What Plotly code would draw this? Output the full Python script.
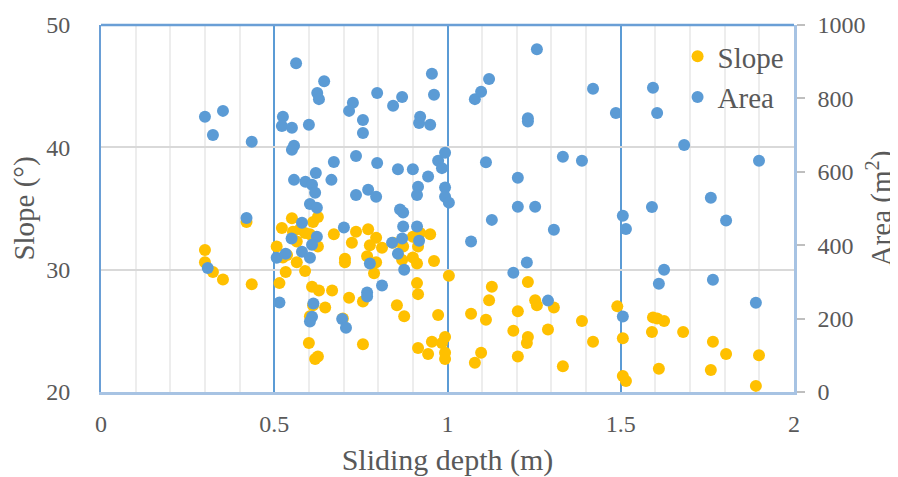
import plotly.graph_objects as go

# ---------------- data ----------------
slope_depth = [0.300, 0.300, 0.323, 0.352, 0.435, 0.420, 0.515, 0.507, 0.533, 0.525,
               0.565, 0.522, 0.551, 0.554, 0.574, 0.612, 0.626, 0.603, 0.626, 0.537,
               0.589, 0.589, 0.565, 0.672, 0.736, 0.724, 0.771, 0.704, 0.704, 0.609,
               0.629, 0.667, 0.716, 0.756, 0.612, 0.647, 0.603, 0.698, 0.600, 0.756,
               0.626, 0.618, 0.794, 0.776, 0.811, 0.768, 0.794, 0.788, 0.843, 0.872,
               0.900, 0.921, 0.950, 0.915, 0.869, 0.900, 0.912, 0.961, 1.004, 0.912,
               0.915, 0.854, 0.875, 0.973, 0.915, 0.944, 0.955, 0.984, 0.993, 0.993,
               0.993, 1.068, 1.111, 1.128, 1.120, 1.079, 1.097, 1.203, 1.190, 1.232,
               1.253, 1.258, 1.232, 1.229, 1.203, 1.290, 1.307, 1.333, 1.388, 1.420,
               1.490, 1.506, 1.506, 1.515, 1.593, 1.605, 1.625, 1.590, 1.680, 1.610,
               1.766, 1.804, 1.760, 1.899, 1.890]
slope_values = [31.6, 30.6, 29.8, 29.2, 28.8, 33.9, 28.9, 31.9, 29.8, 31.0,
                30.6, 33.4, 34.2, 33.1, 33.3, 33.9, 34.3, 32.9, 31.9, 31.2,
                29.9, 33.0, 32.3, 32.9, 33.1, 32.2, 33.3, 30.9, 30.6, 28.6,
                28.3, 28.3, 27.7, 27.4, 27.1, 26.9, 26.2, 26.0, 24.0, 23.9,
                22.9, 22.7, 32.6, 32.0, 31.8, 31.1, 30.6, 29.7, 32.2, 31.9,
                32.7, 33.0, 32.9, 31.9, 30.8, 31.0, 30.5, 30.7, 29.5, 28.9,
                28.0, 27.1, 26.2, 26.3, 23.6, 23.1, 24.1, 24.0, 24.5, 23.2,
                22.7, 26.4, 25.9, 28.6, 27.5, 22.4, 23.2, 26.6, 25.0, 29.0,
                27.5, 27.1, 24.5, 24.0, 22.9, 25.1, 26.9, 22.1, 25.8, 24.1,
                27.0, 24.4, 21.3, 20.9, 26.1, 26.0, 25.8, 24.9, 24.9, 21.9,
                24.1, 23.1, 21.8, 23.0, 20.5]

area_depth = [0.300, 0.323, 0.352, 0.435, 0.420, 0.308, 0.515, 0.507, 0.533, 0.550,
              0.580, 0.563, 0.525, 0.522, 0.551, 0.557, 0.551, 0.557, 0.644, 0.624,
              0.629, 0.727, 0.716, 0.756, 0.756, 0.600, 0.672, 0.736, 0.620, 0.590,
              0.609, 0.618, 0.665, 0.736, 0.771, 0.603, 0.623, 0.797, 0.843, 0.869,
              0.955, 0.961, 0.921, 0.918, 0.950, 0.797, 0.857, 0.900, 0.944, 0.973,
              0.984, 0.993, 0.794, 0.915, 0.912, 0.993, 0.993, 1.004, 0.863, 0.872,
              0.701, 0.872, 0.912, 0.580, 0.623, 1.068, 1.128, 1.203, 1.203, 1.253,
              1.111, 1.232, 1.232, 1.079, 1.097, 1.120, 1.258, 1.420, 1.333, 1.388,
              1.307, 1.486, 1.593, 1.605, 1.683, 1.899, 1.760, 1.590, 1.804, 1.506,
              1.515, 1.625, 1.610, 1.766, 1.890, 1.506, 1.229, 1.190, 1.290, 0.609,
              0.603, 0.613, 0.609, 0.603, 0.696, 0.707, 0.768, 0.768, 0.776, 0.811,
              0.840, 0.857, 0.869, 0.875, 0.918]
area_values = [750, 700, 766, 682, 474, 338, 244, 366, 377, 418,
               382, 896, 750, 725, 720, 671, 660, 578, 847, 815,
               798, 788, 766, 741, 706, 728, 627, 643, 597, 573,
               565, 543, 578, 537, 551, 512, 502, 815, 780, 804,
               867, 810, 750, 733, 728, 624, 607, 607, 587, 630,
               610, 652, 532, 559, 537, 557, 532, 516, 497, 489,
               448, 451, 451, 461, 423, 410, 469, 584, 505, 505,
               626, 746, 737, 798, 818, 853, 934, 826, 641, 630,
               442, 760, 829, 760, 673, 630, 529, 504, 467, 480,
               444, 333, 295, 306, 243, 206, 353, 325, 249, 401,
               366, 241, 205, 192, 199, 175, 271, 260, 350, 290,
               407, 377, 418, 333, 412]

x_tickvals = [0, 0.5, 1, 1.5, 2]
x_ticktext = ["0", "0.5", "1", "1.5", "2"]

# ---------------- style ----------------
FONT = "'Liberation Serif', 'Times New Roman', serif"
TXT = "#595959"
YELLOW = "#FFC000"
BLUE = "#5B9BD5"
BORDER_DARK = "#6A9FD6"
BORDER_LIGHT = "#A7C3E3"

fig = go.Figure()
fig.add_trace(go.Scatter(x=slope_depth, y=slope_values, mode="markers", name="Slope",
                         marker=dict(color=YELLOW, size=12, line=dict(width=0)),
                         yaxis="y"))
fig.add_trace(go.Scatter(x=area_depth, y=area_values, mode="markers", name="Area",
                         marker=dict(color=BLUE, size=12, line=dict(width=0)),
                         yaxis="y2"))

fig.update_layout(
    width=890, height=469,
    margin=dict(l=93, r=104, t=17, b=85, autoexpand=False),
    paper_bgcolor="white", plot_bgcolor="white",
    font=dict(family=FONT, color=TXT, size=24),
    showlegend=True,
    legend=dict(x=0.832, y=0.984, xanchor="left", yanchor="top",
                bgcolor="rgba(0,0,0,0)", font=dict(size=29, color=TXT, family=FONT),
                itemsizing="constant", tracegroupgap=0),
    xaxis=dict(range=[0, 2], tickvals=x_tickvals, ticktext=x_ticktext,
               showgrid=True, gridcolor=BLUE, gridwidth=1.5, zeroline=False,
               minor=dict(dtick=0.1, showgrid=True, gridcolor="#EDEDED", gridwidth=1.5),
               showline=True, linecolor=BORDER_LIGHT, linewidth=2.5,
               ticks="", ticklabelstandoff=8, automargin=False,
               title=dict(text="Sliding depth (m)", font=dict(size=30, color=TXT, family=FONT), standoff=14),
               tickfont=dict(size=24, color=TXT, family=FONT)),
    yaxis=dict(range=[20, 50], dtick=10, showgrid=True, gridcolor="#D9D9D9", gridwidth=1.5,
               zeroline=False, showline=True, linecolor=BORDER_DARK, linewidth=2,
               ticks="", ticklabelstandoff=24, automargin=False,
               title=dict(text="Slope (°)", font=dict(size=29, color=TXT, family=FONT), standoff=6),
               tickfont=dict(size=24, color=TXT, family=FONT)),
    yaxis2=dict(range=[0, 1000], dtick=200, overlaying="y", side="right",
                showgrid=False, zeroline=False, showline=True, linecolor=BORDER_LIGHT,
                linewidth=2.5, ticks="outside", ticklen=8, tickcolor="#BFBFBF", tickwidth=1.5,
                ticklabelstandoff=8, automargin=False,
                title=dict(text="Area (m<sup>2</sup>)", font=dict(size=29, color=TXT, family=FONT), standoff=10),
                tickfont=dict(size=24, color=TXT, family=FONT)),
    shapes=[dict(type="line", xref="paper", yref="paper", x0=0, x1=1, y0=1, y1=1,
                 line=dict(color=BORDER_DARK, width=2.5), layer="above")],
)

fig.write_html("out.html")
